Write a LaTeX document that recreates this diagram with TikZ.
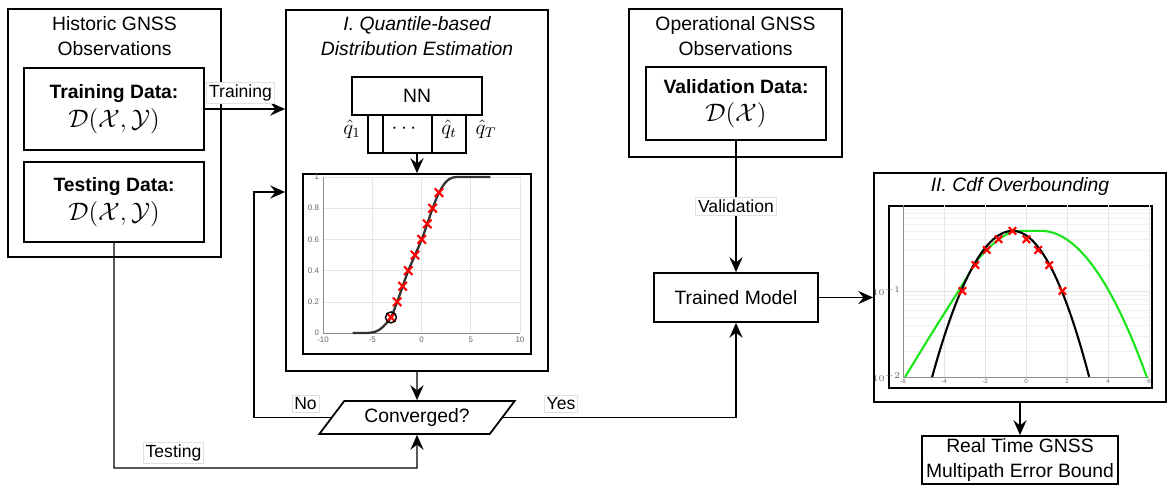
\documentclass[tikz,border=0pt]{standalone}
\usepackage{fontspec}
\setmainfont{Liberation Sans}
\usetikzlibrary{arrows.meta,fit,shapes.geometric,shapes.misc}

\definecolor{ovgreen}{RGB}{25,230,25}

\begin{document}
\begin{tikzpicture}[x=0.02cm,y=-0.02cm,
  font=\fontsize{11}{13.8}\selectfont,
  box/.style={draw,line width=1pt,inner sep=0pt,align=center},
  tbox/.style 2 args={box,minimum width=#1,minimum height=#2},
  lbl/.style={draw=black!12,fill=white,inner sep=1.3pt,font=\fontsize{10}{12}\selectfont},
  conn/.style={line width=0.8pt,-{Stealth[length=8.5pt,width=7.5pt,inset=3pt]}},
  gridline/.style={black!10,line width=0.3pt},
  axisline/.style={black!45,line width=0.3pt},
  tick/.style={font=\fontsize{4.5}{5}\selectfont,text=black!60,inner sep=1pt},
  qmark/.style={cross out,draw=red,line width=1.2pt,minimum size=#1,inner sep=0pt},
  qmark/.default=3.6pt]

\useasboundingbox (0,0) rectangle (1167,485);

% historic observations
\node[box,fit={(8,9) (221,257)}] (hist) {};
\node[align=center] (histT) at (114.5,36) {Historic GNSS\\Observations};
\node[tbox={3.6cm}{1.64cm}] (train) at (114,109)
  {\textbf{Training Data:}\\[2.5pt]{\fontsize{15}{15}\selectfont$\mathcal{D}(\mathcal{X},\mathcal{Y})$}};
\node[tbox={3.6cm}{1.6cm}] (test) at (114,202)
  {\textbf{Testing Data:}\\[2.5pt]{\fontsize{15}{15}\selectfont$\mathcal{D}(\mathcal{X},\mathcal{Y})$}};

% I. quantile-based estimation
\node[box,fit={(286,10) (548,371)}] (est) {};
\node[align=center,font=\fontsize{11}{13.8}\selectfont\itshape] (estT) at (417,36)
  {I. Quantile-based\\Distribution Estimation};
\node[tbox={2.6cm}{0.76cm}] (nn) at (417,96) {NN};
\node[box,fit={(368,115) (466,153)}] (qout) {};
\draw[line width=1pt] (qout.north west) ++(16,0) -- ++(0,38);
\draw[line width=1pt] (qout.north west) ++(65,0) -- ++(0,38);
\node[font=\fontsize{12}{12}\selectfont] (q1) at (352,129) {$\hat{q}_1$};
\node[font=\fontsize{12}{12}\selectfont] (qdots) at (404,129) {$\cdots$};
\node[font=\fontsize{12}{12}\selectfont] (qt) at (449,129) {$\hat{q}_t$};
\node[font=\fontsize{12}{12}\selectfont] (qT) at (486,129) {$\hat{q}_T$};
\node[box,fit={(303,174) (531,354)}] (plotA) {};
\draw[conn] (qout.south) -- (plotA.north);

% cdf with quantiles
\begin{scope}[shift={(421.5,333)},x=0.197cm,y=3.12cm]
  \foreach \gx in {-10,-5,...,10} \draw[gridline] (\gx,0) -- (\gx,1);
  \foreach \gy in {0.2,0.4,0.6,0.8,1} \draw[gridline] (-10,\gy) -- (10,\gy);
  \draw[axisline] (-10,1) -- (-10,0) -- (10,0);
  \foreach \gx in {-10,-5,0,5,10} \node[tick,below] at (\gx,-0.01) {\gx};
  \foreach \gy in {0,0.2,0.4,0.6,0.8,1} \node[tick,left] at (-10.2,\gy) {\gy};
  \draw[black!80,line width=1.3pt] plot[smooth,tension=0.6] coordinates
    {(-7,0) (-5.2,0.002) (-4.3,0.02) (-3.6,0.06) (-3.1,0.1) (-2.47,0.2) (-1.91,0.3)
     (-1.34,0.4) (-0.66,0.5) (0.02,0.6) (0.59,0.7) (1.13,0.8) (1.78,0.9) (2.5,0.97)
     (3.2,0.997) (4.2,1) (7,1)};
  \foreach \qx/\qy in {-3.1/0.1,-2.47/0.2,-1.91/0.3,-1.34/0.4,-0.66/0.5,0.02/0.6,0.59/0.7,1.13/0.8,1.78/0.9}
    \node[qmark] at (\qx,\qy) {};
  \draw[line width=0.8pt] (-3.1,0.1) circle[radius=0.11cm];
\end{scope}

\node[draw,line width=1pt,trapezium,trapezium left angle=45,trapezium right angle=135,
  trapezium stretches=true,minimum width=3.92cm,minimum height=0.66cm,inner sep=0pt]
  (conv) at (417,417.5) {Converged?};

% operational observations
\node[box,fit={(629,9) (842,157)}] (oper) {};
\node[align=center] (operT) at (735.5,36) {Operational GNSS\\Observations};
\node[tbox={3.6cm}{1.46cm}] (valid) at (736,103.5)
  {\textbf{Validation Data:}\\[2.5pt]{\fontsize{15}{15}\selectfont$\mathcal{D}(\mathcal{X})$}};
\node[tbox={3.28cm}{0.98cm}] (model) at (736,297.5) {Trained Model};

% II. cdf overbounding
\node[box,fit={(874,173) (1166,402)}] (over) {};
\node[font=\fontsize{11}{13.8}\selectfont\itshape] (overT) at (1020,186) {II. Cdf Overbounding};
\node[box,fit={(889,206) (1152,388)}] (plotB) {};
\begin{scope}[shift={(1026,205)},x=0.41cm,y=1.72cm]
  \foreach \d in {-2,-1} \foreach \k in {2,...,9}
    \draw[black!6,line width=0.3pt] (-6,{\d+log10(\k)}) -- (6,{\d+log10(\k)});
  \draw[gridline] (-6,-1) -- (6,-1);
  \foreach \gx in {-4,-2,...,6} \draw[gridline] (\gx,-2) -- (\gx,0);
  \draw[axisline] (-6,0) -- (-6,-2) -- (6,-2);
  \foreach \gx in {-6,-4,...,6} \node[tick,below,font=\fontsize{3.5}{4}\selectfont] at (\gx,-2) {\gx};
  \node[tick,left,font=\fontsize{3.5}{4}\selectfont] at (-6,-2) {$10^{-2}$};
  \node[tick,left,font=\fontsize{3.5}{4}\selectfont] at (-6,-1) {$10^{-1}$};
  \draw[ovgreen,line width=1.2pt] plot[smooth] coordinates
    {(-5.9,-2) (-4.59,-1.49) (-3.11,-0.93) (-2.43,-0.66) (-1.89,-0.515) (-1.31,-0.395) (-0.65,-0.301)}
    -- (0.74,-0.301) -- plot[domain=0.74:5.9,samples=40] (\x,{-0.301-0.064*(\x-0.74)^2});
  \draw[black,line width=1.2pt] plot[domain=-4.58:-0.65,samples=40] (\x,{-0.301-0.11*(\x+0.65)^2})
    -- plot[domain=-0.65:3.08,samples=40] (\x,{-0.301-0.122*(\x+0.65)^2});
  \foreach \qx/\qy in {-3.1/-1,-2.47/-0.699,-1.91/-0.523,-1.34/-0.398,-0.66/-0.301,0.02/-0.398,0.59/-0.523,1.13/-0.699,1.78/-1}
    \node[qmark=3pt] at (\qx,\qy) {};
\end{scope}
\node[tbox={3.92cm}{0.96cm}] (bound) at (1020,460) {Real Time GNSS\\Multipath Error Bound};

% connectors
\draw[conn] (train.east) -- (train.east -| est.west);
\node[lbl] (trainL) at (240.5,92.5) {Training};
\coordinate (testC) at (417,468);
\draw[conn] (test.south) |- (testC) -- (conv.south);
\node[lbl] (testL) at (173.5,452.5) {Testing};
\draw[conn] (est.south) -- (conv.north);
\coordinate (noC) at (254,192);
\draw[conn] (conv.west) -| (noC) -- (noC -| est.west);
\node[lbl] (noL) at (305.5,404) {No};
\draw[conn] (conv.east) -| (model.south);
\node[lbl] (yesL) at (561,403.5) {Yes};
\draw[conn] (valid.south) -- (model.north) node[lbl,midway] (validL) {Validation};
\draw[conn] (model.east) -- (model.east -| over.west);
\draw[conn] (over.south) -- (bound.north);
\end{tikzpicture}
\end{document}
